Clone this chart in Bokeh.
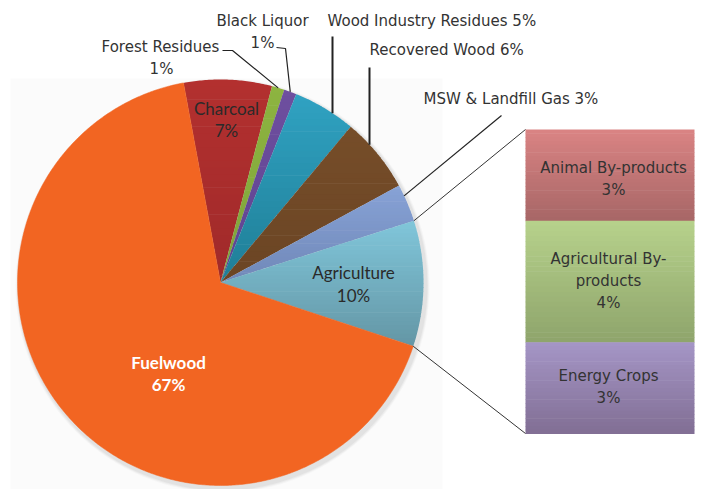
import numpy as np
from bokeh.plotting import figure
from bokeh.models import Range1d
from bokeh.core.properties import value
from bokeh.embed import file_html
from bokeh.resources import INLINE

# ---------------- data ----------------
pie_labels = ["Charcoal", "Forest Residues", "Black Liquor", "Wood Industry Residues",
              "Recovered Wood", "MSW & Landfill Gas", "Agriculture", "Fuelwood"]
pie_values = [7, 1, 1, 5, 6, 3, 10, 67]
pie_top_colors = ["#B3302F", "#8DB440", "#6E4F9F", "#30A2C2", "#764D29", "#87A2D6", "#80C6DA", "#F26522"]
pie_bot_colors = ["#A02A2A", "#7FA33A", "#5E4390", "#1F7E96", "#6B4524", "#7088B8", "#6496A5", "#F26522"]

bar_labels = ["Animal By-products", "Agricultural By-products", "Energy Crops"]
bar_values = [3, 4, 3]
bar_top_colors = ["#D98383", "#B6D18B", "#A495C5"]
bar_bot_colors = ["#A86767", "#8FA56C", "#826F95"]

# ---------------- layout ----------------
W, H = 701, 489
def Y(img_y):
    return H - img_y

cx, cy, R = 220, Y(282), 203
start_deg = 100.5

p = figure(width=W, height=H, output_backend="svg", toolbar_location=None,
           x_range=Range1d(0, W), y_range=Range1d(0, H),
           min_border=0, outline_line_color=None, background_fill_color="white")
p.axis.visible = False
p.grid.visible = False

# faint backdrop + shadow
p.quad(left=[10], right=[442], top=[Y(78)], bottom=[Y(489)], fill_color="#FBFBFB", line_color=None)
for k, a in [(4, 0.05), (3, 0.07), (2, 0.09)]:
    p.circle(x=[cx + 2], y=[cy - 3], radius=R + k, fill_color="#808080", fill_alpha=a, line_color=None)


def hexrgb(h):
    return np.array([int(h[i:i + 2], 16) for i in (1, 3, 5)], dtype=float)

def mix(c1, c2, t):
    c = hexrgb(c1) * (1 - t) + hexrgb(c2) * t
    return "#%02x%02x%02x" % tuple(int(round(v)) for v in c)

def clip_band(poly, ylo, yhi):
    def clip(pts, inside, inter):
        out = []
        n = len(pts)
        for i in range(n):
            cur, prev = pts[i], pts[i - 1]
            ci, pi_ = inside(cur), inside(prev)
            if ci:
                if not pi_:
                    out.append(inter(prev, cur))
                out.append(cur)
            elif pi_:
                out.append(inter(prev, cur))
        return out
    def inter_y(yv):
        def f(a, b):
            t = (yv - a[1]) / (b[1] - a[1])
            return (a[0] + t * (b[0] - a[0]), yv)
        return f
    pts = clip(poly, lambda q: q[1] >= ylo, inter_y(ylo))
    if not pts:
        return []
    pts = clip(pts, lambda q: q[1] <= yhi, inter_y(yhi))
    return pts

# pie slices with vertical gradient
angles = []
cum = 0.0
for v in pie_values:
    a_hi = start_deg - 3.6 * cum
    a_lo = a_hi - 3.6 * v
    angles.append((a_lo, a_hi))
    cum += v

NB = 30
for (a_lo, a_hi), c_top, c_bot in zip(angles, pie_top_colors, pie_bot_colors):
    th = np.radians(np.linspace(a_hi, a_lo, max(8, int((a_hi - a_lo) * 2))))
    poly = [(cx, cy)] + [(cx + R * np.cos(t), cy + R * np.sin(t)) for t in th]
    if c_top == c_bot:
        p.patch([q[0] for q in poly], [q[1] for q in poly], fill_color=c_top, line_color=c_top, line_width=0.5)
        continue
    ys = [q[1] for q in poly]
    y0, y1 = min(ys), max(ys)
    xs_l, ys_l, cols = [], [], []
    for i in range(NB):
        lo = y0 + (y1 - y0) * i / NB
        hi = y0 + (y1 - y0) * (i + 1) / NB + 0.6
        band = clip_band(poly, lo, hi)
        if len(band) >= 3:
            xs_l.append([q[0] for q in band])
            ys_l.append([q[1] for q in band])
            t = 1 - (i + 0.5) / NB
            cols.append(mix(c_top, c_bot, t))
    p.patches(xs_l, ys_l, fill_color=cols, line_color=None)

# bar of pie
bx0, bx1 = 525, 694
btop, bbot = Y(129), Y(433)
unit = (btop - bbot) / sum(bar_values)
edges = [btop]
for v in bar_values:
    edges.append(edges[-1] - v * unit)
NS = 24
for i, (c_top, c_bot) in enumerate(zip(bar_top_colors, bar_bot_colors)):
    t0, b0 = edges[i], edges[i + 1]
    hs = np.linspace(t0, b0, NS + 1)
    p.quad(left=bx0, right=bx1, top=hs[:-1], bottom=hs[1:] - 0.5,
           fill_color=[mix(c_top, c_bot, k / (NS - 1)) for k in range(NS)], line_color=None)

# connector lines from Agriculture slice to the bar
ag = pie_labels.index("Agriculture")
a_top = np.radians(angles[ag][1])
a_bot = np.radians(angles[ag][0])
p.line([cx + R * np.cos(a_top), bx0], [cy + R * np.sin(a_top), btop], line_color="#333333", line_width=1)
p.line([cx + R * np.cos(a_bot), bx0], [cy + R * np.sin(a_bot), bbot], line_color="#333333", line_width=1)

# leader lines for small slices
def edge_pt(i, frac):
    a = np.radians(angles[i][1] - frac * (angles[i][1] - angles[i][0]))
    return cx + R * np.cos(a), cy + R * np.sin(a)

fx, fy = edge_pt(1, 0.5)
p.line([222, 232, fx], [Y(50), Y(50), fy], line_color="#222222", line_width=1.2)
bx, by = edge_pt(2, 0.5)
p.line([276, 285, bx], [Y(47), Y(48), by], line_color="#222222", line_width=1.2)
# Wood Industry Residues / Recovered Wood: vertical lines down to pie edge
wx = 332
wy = cy + np.sqrt(R ** 2 - (wx - cx) ** 2)
p.line([wx, wx], [Y(36), wy], line_color="#222222", line_width=2)
rx = 369
ry = cy + np.sqrt(R ** 2 - (rx - cx) ** 2)
p.line([rx, rx], [Y(67), ry], line_color="#222222", line_width=2)
mx, my = edge_pt(5, 0.3)
p.line([501, mx], [Y(115), my], line_color="#222222", line_width=1.2)

# ---------------- texts ----------------
out_font = value("DejaVu Sans")
in_font = value("Lato")
OS = "15px"

def txt(x, y, s, font, size, color, align="center", style="normal"):
    p.text(x=[x], y=[Y(y)], text=[s], text_font=font, text_font_size=size,
           text_color=color, text_align=align, text_baseline="middle", text_font_style=style)

pct = ["%d%%" % v for v in pie_values]
txt(160, 46, pie_labels[1], out_font, OS, "#333333")
txt(161, 68, pct[1], out_font, OS, "#333333")
txt(262, 20, pie_labels[2], out_font, OS, "#333333")
txt(262, 42, pct[2], out_font, OS, "#333333")
txt(327, 20, pie_labels[3] + " " + pct[3], out_font, OS, "#333333", align="left")
txt(369, 49, pie_labels[4] + " " + pct[4], out_font, OS, "#333333", align="left")
txt(423, 98, pie_labels[5] + " " + pct[5], out_font, OS, "#333333", align="left")

txt(226, 108, pie_labels[0], in_font, "17px", "#2a2a2a")
txt(226, 130, pct[0], in_font, "17px", "#2a2a2a")
txt(353, 272, pie_labels[6], in_font, "17px", "#2a2a2a")
txt(353, 295, pct[6], in_font, "17px", "#2a2a2a")
txt(168, 362, pie_labels[7], in_font, "17px", "white", style="bold")
txt(168, 384, pct[7], in_font, "17px", "white", style="bold")

bpct = ["%d%%" % v for v in bar_values]
txt(613, 167, bar_labels[0], out_font, OS, "#333333")
txt(613, 189, bpct[0], out_font, OS, "#333333")
txt(608, 258, "Agricultural By-", out_font, OS, "#333333")
txt(608, 280, "products", out_font, OS, "#333333")
txt(608, 302, bpct[1], out_font, OS, "#333333")
txt(608, 375, bar_labels[2], out_font, OS, "#333333")
txt(608, 397, bpct[2], out_font, OS, "#333333")

open("out.html", "w").write(file_html(p, INLINE))
